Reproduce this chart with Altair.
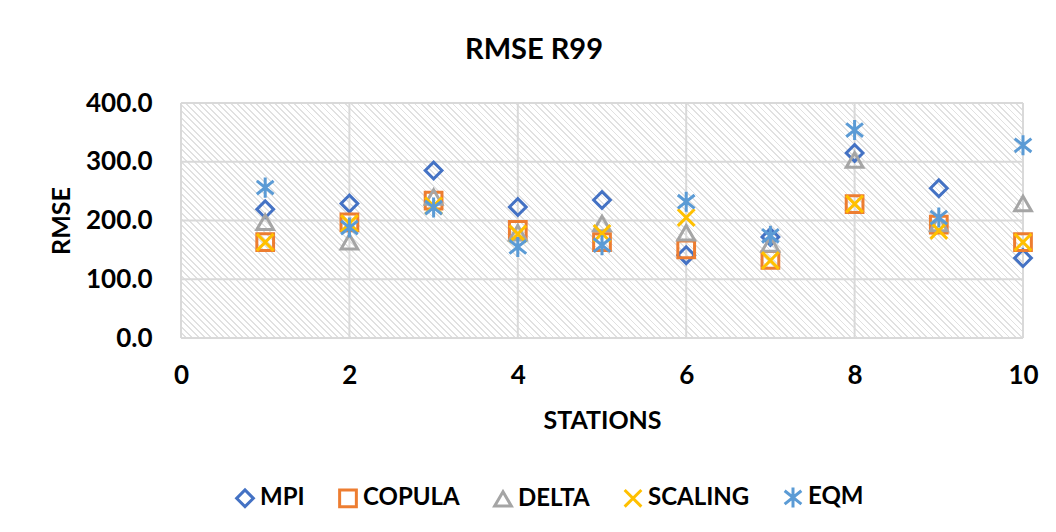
import altair as alt
import pandas as pd

stations = [1, 2, 3, 4, 5, 6, 7, 8, 9, 10]
series = ["MPI", "COPULA", "DELTA", "SCALING", "EQM"]
mpi = [219, 229, 285, 223, 235, 141, 172, 315, 255, 136]
copula = [163, 197, 234, 184, 163, 151, 133, 228, 193, 163]
delta = [197, 164, 240, 179, 195, 179, 160, 303, 195, 229]
scaling = [163, 195, 225, 177, 178, 205, 132, 228, 183, 163]
eqm = [256, 188, 222, 155, 158, 232, 174, 354, 205, 328]
colors = ["#4472C4", "#ED7D31", "#A5A5A5", "#FFC000", "#5B9BD5"]
shapes = [
    "diamond",
    "square",
    "triangle-up",
    "M-1,-1L1,1M-1,1L1,-1",
    "M-1,-0.8L1,0.8M-1,0.8L1,-0.8M0,-1.2L0,1.2",
]
x_domain = [0, 10]
y_domain = [0, 400]
x_ticks = [0, 2, 4, 6, 8, 10]
y_ticks = [0, 100, 200, 300, 400]

rows = []
for name, vals in zip(series, [mpi, copula, delta, scaling, eqm]):
    for s, v in zip(stations, vals):
        rows.append({"station": s, "series": name, "rmse": v})
df = pd.DataFrame(rows)

W, H = 842, 235
FONT = "Lato"
GRID = "#d9d9d9"

# diagonal hatch for the plot background (style only)
r = H / W
t = (1 + r) / (1 + r * r)
N = 170
stops = []
for k in range(N):
    a = k / N
    b = (k + 0.72) / N
    c = (k + 1) / N
    stops += [
        {"offset": a, "color": "#ffffff"},
        {"offset": b, "color": "#ffffff"},
        {"offset": b, "color": "#e1e1e1"},
        {"offset": c, "color": "#e1e1e1"},
    ]
hatch = alt.LinearGradient(
    gradient="linear", x1=0, y1=1, x2=t, y2=1 - t * r, stops=stops
)

xs = alt.Scale(domain=x_domain, nice=False)
ys = alt.Scale(domain=y_domain, nice=False)
x_axis = alt.Axis(values=x_ticks, format="d", labelPadding=24, titlePadding=20, labelFlush=False)
y_axis = alt.Axis(values=y_ticks, format=".1f", labelPadding=29, titlePadding=11, labelFlush=False)

background = (
    alt.Chart(pd.DataFrame({"panel": ["plot"]}))
    .mark_rect(fill=hatch, strokeWidth=0)
    .encode(
        x=alt.datum(x_domain[0], scale=xs, axis=x_axis, title="STATIONS"),
        x2=alt.datum(x_domain[1]),
        y=alt.datum(y_domain[0], scale=ys, axis=y_axis, title="RMSE"),
        y2=alt.datum(y_domain[1]),
    )
)

hgrid = (
    alt.Chart(pd.DataFrame({"gy": y_ticks}))
    .mark_rule(color=GRID, strokeWidth=2)
    .encode(y=alt.Y("gy:Q", scale=ys, axis=y_axis, title="RMSE"))
)
vgrid = (
    alt.Chart(pd.DataFrame({"gx": x_ticks}))
    .mark_rule(color=GRID, strokeWidth=2)
    .encode(x=alt.X("gx:Q", scale=xs, axis=x_axis, title="STATIONS"))
)

points = (
    alt.Chart(df)
    .mark_point(filled=False, strokeWidth=3, size=280, opacity=1)
    .encode(
        x=alt.X("station:Q", title="STATIONS", scale=xs, axis=x_axis),
        y=alt.Y("rmse:Q", title="RMSE", scale=ys, axis=y_axis),
        color=alt.Color(
            "series:N",
            scale=alt.Scale(domain=series, range=colors),
            legend=alt.Legend(title=None),
        ),
        shape=alt.Shape(
            "series:N",
            scale=alt.Scale(domain=series, range=shapes),
            legend=alt.Legend(title=None),
        ),
    )
)

chart = (
    alt.layer(background, hgrid, vgrid, points)
    .properties(
        width=W,
        height=H,
        title=alt.TitleParams(
            "RMSE R99",
            font=FONT,
            fontSize=29,
            fontWeight="bold",
            color="#000000",
            anchor="middle",
            frame="group",
            dx=-68,
            offset=2,
            baseline="alphabetic",
        ),
        autosize=alt.AutoSizeParams(type="none"),
        padding={"left": 173, "top": 95, "right": 25, "bottom": 180},
    )
    .configure_view(stroke="transparent")
    .configure_axis(
        grid=False,
        domain=False,
        ticks=False,
        tickSize=0,
        labelFont=FONT,
        labelFontSize=26,
        labelFontWeight="bold",
        labelColor="#000000",
        titleFont=FONT,
        titleFontSize=25,
        titleFontWeight="bold",
        titleColor="#000000",
    )
    .configure_legend(
        orient="none",
        legendX=52,
        legendY=382,
        direction="horizontal",
        labelFont=FONT,
        labelFontSize=24,
        labelFontWeight="bold",
        labelColor="#000000",
        symbolSize=280,
        symbolStrokeWidth=3,
        columnPadding=28,
        labelOffset=3,
        padding=0,
    )
)

chart.save("out.html", embed_options={"renderer": "svg", "actions": False})
